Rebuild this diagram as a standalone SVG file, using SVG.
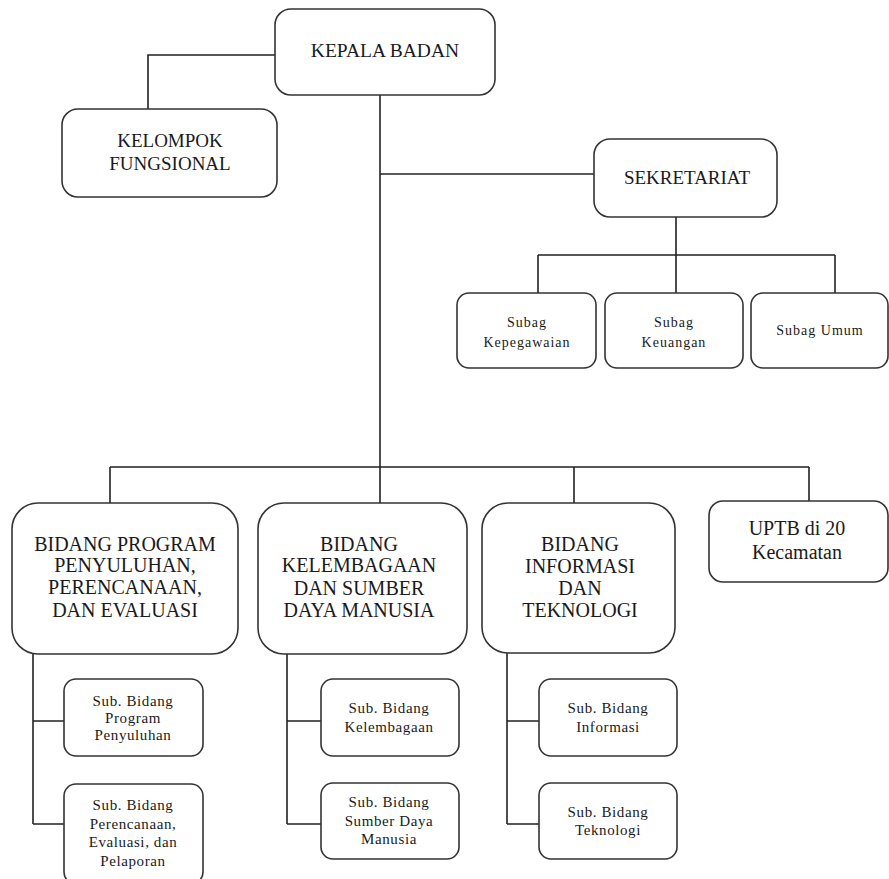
<svg xmlns="http://www.w3.org/2000/svg" width="889" height="879" viewBox="0 0 889 879">
<style>
.box{fill:#fff;stroke:#333;stroke-width:1.6}
.ln{fill:none;stroke:#222;stroke-width:1.6}
.big{font-family:"Liberation Serif","Times New Roman",serif;font-size:20px;fill:#1a1a1a;text-anchor:middle}
.sm{font-family:"Liberation Serif","Times New Roman",serif;font-size:15px;letter-spacing:0.6px;fill:#1a1a1a;text-anchor:middle}
.sb{font-family:"Liberation Serif","Times New Roman",serif;font-size:14px;letter-spacing:1px;fill:#1a1a1a;text-anchor:middle}
</style>
<rect width="889" height="879" fill="#fff"/>
<g id="connectors">
<path class="ln" d="M275,55 H148 V109"/>
<path class="ln" d="M380,95 V467"/>
<path class="ln" d="M380,174 H594"/>
<path class="ln" d="M676,217 V255 M538,255 H835 M538,255 V293 M676,255 V293 M835,255 V293"/>
<path class="ln" d="M110,467 H809 M110,467 V503 M380,467 V503 M574,467 V503 M809,467 V501"/>
<path class="ln" d="M33,654 V824 M33,721 H64 M33,824 H64"/>
<path class="ln" d="M287,654 V824 M287,721 H321 M287,824 H321"/>
<path class="ln" d="M507,653 V824 M507,721 H539 M507,824 H539"/>
</g>
<g id="kepala-badan">
<rect class="box" x="275" y="9" width="220" height="86" rx="16"/>
<text class="big" x="385" y="57" style="font-size:19.5px">KEPALA BADAN</text>
</g>
<g id="kelompok-fungsional">
<rect class="box" x="62" y="109" width="215" height="88" rx="16"/>
<text class="big" x="170" y="147" style="font-size:19px">KELOMPOK</text>
<text class="big" x="170" y="170" style="font-size:19px">FUNGSIONAL</text>
</g>
<g id="sekretariat">
<rect class="box" x="594" y="139" width="183" height="78" rx="16"/>
<text class="big" x="687" y="184" style="font-size:19px">SEKRETARIAT</text>
</g>
<g id="subag-kepegawaian">
<rect class="box" x="457" y="293" width="139" height="75" rx="12"/>
<text class="sb" x="527" y="327">Subag</text>
<text class="sb" x="527" y="347">Kepegawaian</text>
</g>
<g id="subag-keuangan">
<rect class="box" x="605" y="293" width="138" height="75" rx="12"/>
<text class="sb" x="674" y="327">Subag</text>
<text class="sb" x="674" y="347">Keuangan</text>
</g>
<g id="subag-umum">
<rect class="box" x="751" y="293" width="137" height="75" rx="12"/>
<text class="sb" x="820" y="335">Subag Umum</text>
</g>
<g id="bidang-program">
<rect class="box" x="12" y="503" width="226" height="151" rx="26"/>
<text class="big" x="125" y="551">BIDANG PROGRAM</text>
<text class="big" x="125" y="572">PENYULUHAN,</text>
<text class="big" x="125" y="594">PERENCANAAN,</text>
<text class="big" x="125" y="617">DAN EVALUASI</text>
</g>
<g id="bidang-kelembagaan">
<rect class="box" x="258" y="503" width="209" height="151" rx="26"/>
<text class="big" x="359" y="551">BIDANG</text>
<text class="big" x="359" y="572">KELEMBAGAAN</text>
<text class="big" x="359" y="595">DAN SUMBER</text>
<text class="big" x="359" y="617">DAYA MANUSIA</text>
</g>
<g id="bidang-informasi">
<rect class="box" x="482" y="503" width="193" height="150" rx="26"/>
<text class="big" x="580" y="551">BIDANG</text>
<text class="big" x="580" y="573">INFORMASI</text>
<text class="big" x="580" y="595">DAN</text>
<text class="big" x="580" y="617">TEKNOLOGI</text>
</g>
<g id="uptb">
<rect class="box" x="709" y="501" width="179" height="81" rx="14"/>
<text class="big" x="797" y="535">UPTB di 20</text>
<text class="big" x="797" y="559">Kecamatan</text>
</g>
<g id="sub-program-penyuluhan">
<rect class="box" x="64" y="679" width="139" height="77" rx="12"/>
<text class="sm" x="133" y="706">Sub. Bidang</text>
<text class="sm" x="133" y="723">Program</text>
<text class="sm" x="133" y="740">Penyuluhan</text>
</g>
<g id="sub-perencanaan">
<rect class="box" x="64" y="784" width="139" height="100" rx="12"/>
<text class="sm" x="133" y="810">Sub. Bidang</text>
<text class="sm" x="133" y="829">Perencanaan,</text>
<text class="sm" x="133" y="847">Evaluasi, dan</text>
<text class="sm" x="133" y="866">Pelaporan</text>
</g>
<g id="sub-kelembagaan">
<rect class="box" x="321" y="679" width="138" height="77" rx="12"/>
<text class="sm" x="389" y="713">Sub. Bidang</text>
<text class="sm" x="389" y="732">Kelembagaan</text>
</g>
<g id="sub-sdm">
<rect class="box" x="321" y="783" width="138" height="76" rx="12"/>
<text class="sm" x="389" y="807">Sub. Bidang</text>
<text class="sm" x="389" y="826">Sumber Daya</text>
<text class="sm" x="389" y="844">Manusia</text>
</g>
<g id="sub-informasi">
<rect class="box" x="539" y="679" width="138" height="77" rx="12"/>
<text class="sm" x="608" y="713">Sub. Bidang</text>
<text class="sm" x="608" y="732">Informasi</text>
</g>
<g id="sub-teknologi">
<rect class="box" x="539" y="783" width="138" height="76" rx="12"/>
<text class="sm" x="608" y="817">Sub. Bidang</text>
<text class="sm" x="608" y="835">Teknologi</text>
</g>
</svg>
